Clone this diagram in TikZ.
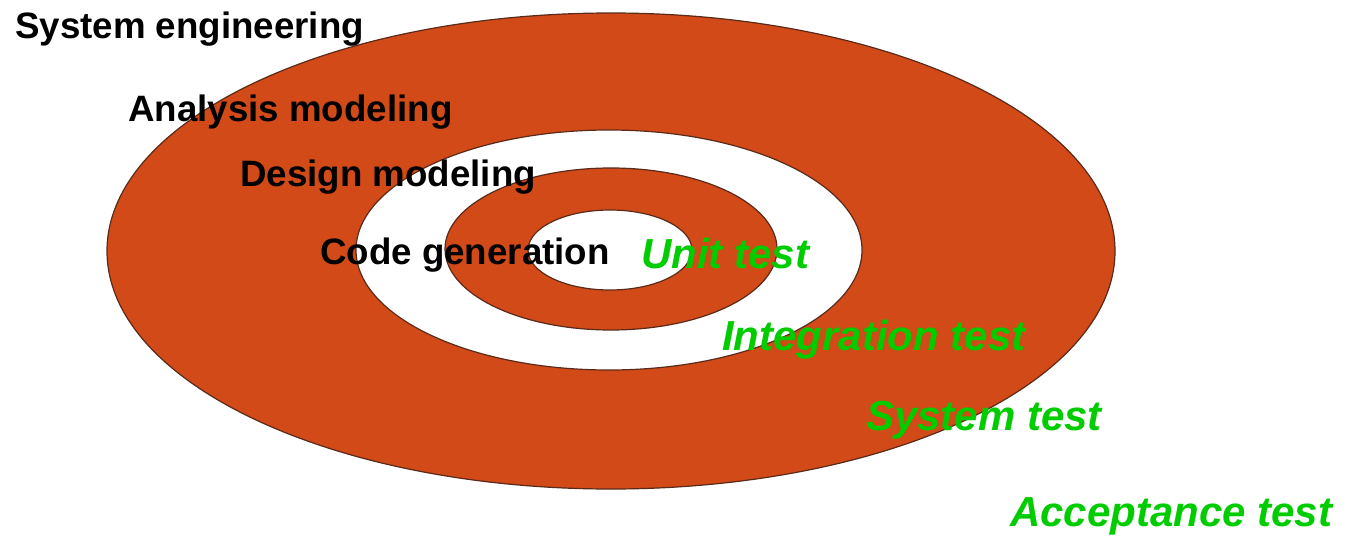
\documentclass[tikz,border=0pt]{standalone}
\usepackage{fontspec}
\setmainfont{Liberation Sans}
\definecolor{ringfill}{HTML}{D14A17}
\definecolor{ringline}{HTML}{5A2A1A}
\definecolor{testgreen}{HTML}{00CC00}
\tikzset{
	ring/.style={draw=ringline, line width=1.2pt, fill=ringfill},
	hole/.style={draw=ringline, line width=1.2pt, fill=white},
	phase/.style={anchor=base west, inner sep=0pt, font=\fontsize{36.7}{40}\selectfont\bfseries},
	testlabel/.style={anchor=base west, inner sep=0pt, text=testgreen, font=\fontsize{42}{46}\selectfont\bfseries\itshape}
}
\begin{document}
\begin{tikzpicture}[x=1pt,y=-1pt]
			\useasboundingbox (0,0) rectangle (1348,535);
			\draw [ring] (611,251) ellipse (504 and 238);
			\draw [hole] (609,250) ellipse (253 and 120);
			\draw [ring] (611,249) ellipse (166 and 81);
			\draw [hole] (610,250) ellipse (82 and 40);
			\node [phase] (syseng) at (15,38) {System engineering};
			\node [phase] (analysis) at (128,121) {Analysis modeling};
			\node [phase] (design) at (240,186) {Design modeling};
			\node [phase] (code) at (320,264) {Code generation};
			\node [testlabel] (unit) at (641,268) {Unit test};
			\node [testlabel] (integ) at (722,350) {Integration test};
			\node [testlabel] (systest) at (866,430) {System test};
			\node [testlabel] (accept) at (1010,526) {Acceptance test};
		\end{tikzpicture}
\end{document}
